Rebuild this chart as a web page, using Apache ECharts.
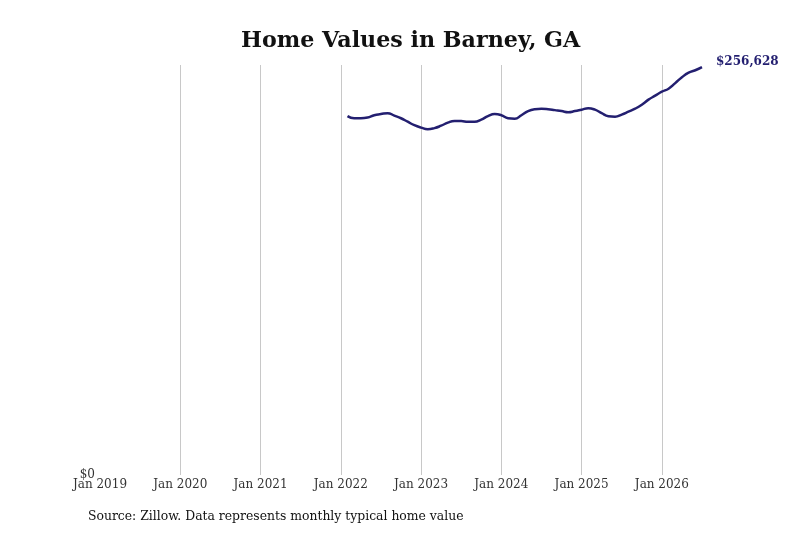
<!DOCTYPE html>
<html>
<head>
<meta charset="utf-8">
<title>Home Values in Barney, GA</title>
<script src="https://cdn.jsdelivr.net/npm/echarts@6/dist/echarts.min.js"></script>
<style>
  html, body { margin: 0; padding: 0; background: #fff; }
  #chart { width: 800px; height: 533px; }
</style>
</head>
<body>
<div id="chart"></div>
<script>
// months on the axis, Jan 2019 .. Jul 2026
var monthNames = ['Jan', 'Feb', 'Mar', 'Apr', 'May', 'Jun', 'Jul', 'Aug', 'Sep', 'Oct', 'Nov', 'Dec'];
var firstYear = 2019;
var monthCount = 91;

// typical home value, Feb 2022 .. Jul 2026
var seriesStart = 'Feb 2022';
var homeValues = [
  225800, 224500, 224500, 224900, 226400, 227100, 227700, 226100, 224500, 222300, 220100,
  218600, 217600, 218300, 219800, 221700, 222700, 222700, 222300, 222300, 223600, 225800, 227100,
  226400, 224500, 224200, 226400, 229000, 230200, 230500, 230200, 229600, 229000, 228300, 229000,
  229900, 230800, 229900, 227700, 225800, 225500, 226800, 228600, 230500, 233000, 236200, 238700,
  241200, 243100, 246600, 250300, 253200, 254700, 256628
];

var months = [];
for (var i = 0; i < monthCount; i++) {
  months.push(monthNames[i % 12] + ' ' + (firstYear + Math.floor(i / 12)));
}
var offset = months.indexOf(seriesStart);
var lineData = [];
for (var j = 0; j < months.length; j++) {
  var k = j - offset;
  lineData.push(k >= 0 && k < homeValues.length ? homeValues[k] : null);
}

var font = 'DejaVu Serif';
var chart = echarts.init(document.getElementById('chart'));
chart.setOption({
  backgroundColor: '#fff',
  animation: false,
  title: {
    text: 'Home Values in Barney, GA',
    left: 236,
    top: 25,
    textStyle: { fontFamily: font, fontSize: 22.2, fontWeight: 'bold', color: '#111' }
  },
  graphic: [{
    type: 'text',
    left: 88,
    top: 511,
    style: {
      text: 'Source: Zillow. Data represents monthly typical home value',
      font: '12.4px "DejaVu Serif"',
      fill: '#111'
    }
  }],
  grid: { left: 100, right: 98, top: 65, bottom: 58 },
  xAxis: {
    type: 'category',
    data: months,
    boundaryGap: false,
    axisLine: { show: false },
    axisTick: { show: false },
    axisLabel: {
      interval: function (index) { return index % 12 === 0; },
      margin: 4,
      fontFamily: font,
      fontSize: 12,
      color: '#333'
    },
    splitLine: {
      show: true,
      interval: function (index) { return index > 0 && index % 12 === 0; },
      lineStyle: { color: '#c8c8c8', width: 1 }
    }
  },
  yAxis: {
    type: 'value',
    min: 0,
    max: 258000,
    interval: 258000,
    axisLine: { show: false },
    axisTick: { show: false },
    splitLine: { show: false },
    axisLabel: {
      margin: 5,
      fontFamily: font,
      fontSize: 12,
      color: '#333',
      formatter: function (v) { return v === 0 ? '$0' : ''; }
    }
  },
  series: [{
    type: 'line',
    data: lineData,
    smooth: true,
    showSymbol: false,
    lineStyle: { color: '#231f70', width: 2.5 },
    itemStyle: { color: '#231f70' },
    endLabel: {
      show: true,
      offset: [6, -5],
      fontFamily: font,
      fontSize: 12,
      fontWeight: 'bold',
      color: '#231f70',
      formatter: function (p) { return '$' + p.value.toLocaleString('en-US'); }
    }
  }]
});
</script>
</body>
</html>
